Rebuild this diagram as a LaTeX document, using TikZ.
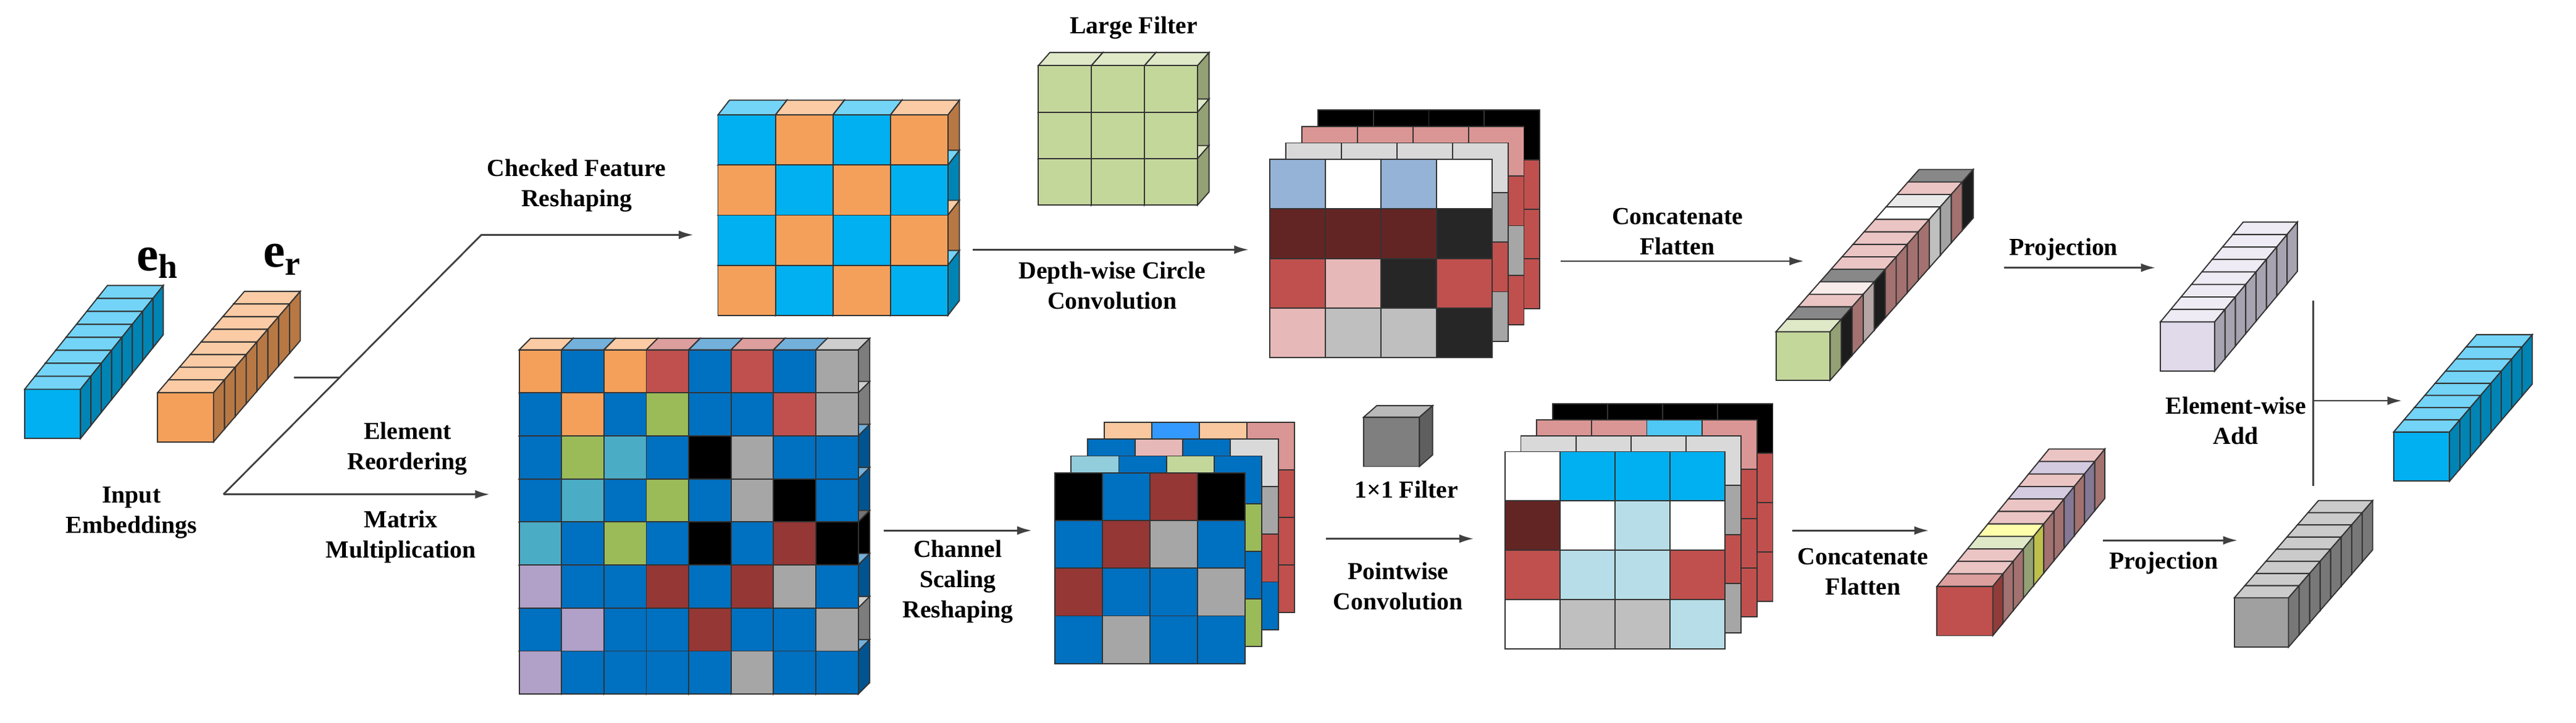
\documentclass[tikz,border=0pt]{standalone}
\usepackage{fontspec}
\setmainfont{Liberation Serif}
\usetikzlibrary{arrows.meta}
\definecolor{cB}{HTML}{00B0F0}
\definecolor{cO}{HTML}{F5A05A}
\definecolor{blu}{HTML}{0070C0}
\definecolor{red}{HTML}{C0504D}
\definecolor{gry}{HTML}{A6A6A6}
\definecolor{grn}{HTML}{9BBB59}
\definecolor{tea}{HTML}{4BACC6}
\definecolor{blk}{HTML}{000000}
\definecolor{dre}{HTML}{953735}
\definecolor{lav}{HTML}{B1A0C7}
\definecolor{fil}{HTML}{C4D79B}
\definecolor{ltb}{HTML}{95B3D7}
\definecolor{wht}{HTML}{FFFFFF}
\definecolor{drk}{HTML}{632523}
\definecolor{b22}{HTML}{262626}
\definecolor{pnk}{HTML}{E6B8B7}
\definecolor{pk2}{HTML}{DA9694}
\definecolor{lgr}{HTML}{D9D9D9}
\definecolor{sgr}{HTML}{BFBFBF}
\definecolor{lor}{HTML}{F9C89E}
\definecolor{mbl}{HTML}{3399FF}
\definecolor{ltl}{HTML}{92CDDC}
\definecolor{lbl}{HTML}{B7DEE8}
\definecolor{cyl}{HTML}{4FC8F5}
\definecolor{lpk}{HTML}{F2DCDB}
\definecolor{yel}{HTML}{FFFF66}
\definecolor{lv2}{HTML}{E0DAEB}
\definecolor{ggr}{HTML}{A0A0A0}
\definecolor{fgr}{HTML}{7F7F7F}
\tikzset{cf/.style={draw=black!80,line width=0.4pt},
 arr/.style={-{Latex[length=5pt,width=3pt]},line width=0.6pt,draw=black!75},
 ln/.style={line width=0.6pt,draw=black!75},
 lbl/.style={align=center,font=\fontsize{8.5}{10.5}\selectfont\bfseries,inner sep=0pt}}
\newcommand\cellbox[7]{%
 \filldraw[cf,fill=#7] ({#1},{#2}) rectangle ++({#3},{#4});
 \filldraw[cf,fill=#7!55!white] ({#1},{#2}) -- ++({#5},{-(#6)}) -- ++({#3},0) -- ++({-(#5)},{#6}) -- cycle;
 \filldraw[cf,fill=#7!75!black] ({#1+#3},{#2}) -- ++({#5},{-(#6)}) -- ++(0,{#4}) -- ++({-(#5)},{#6}) -- cycle;}
\newcommand\vect[8]{%
 \foreach \c [count=\k] in {#8}{\pgfmathsetmacro\ii{#7-\k}%
  \cellbox{#1+\ii*#5}{#2-\ii*#6}{#3}{#4}{#5}{#6}{\c}}}
\newcommand\gridfront[6]{%
 \foreach \c [count=\k from 0] in {#6}{\pgfmathtruncatemacro\cc{mod(\k,#5)}\pgfmathtruncatemacro\rr{\k/#5}%
  \filldraw[cf,fill=\c] ({#1+\cc*#3},{#2+\rr*#4}) rectangle ++({#3},{#4});}}
\newcommand\gridbox[8]{%
 \foreach \c [count=\k from 0] in {#8}{\pgfmathtruncatemacro\cc{mod(\k,#5)}\pgfmathtruncatemacro\rr{\k/#5}%
  \cellbox{#1+\cc*#3}{#2+\rr*#4}{#3}{#4}{#6}{#7}{\c}}%
 \gridfront{#1}{#2}{#3}{#4}{#5}{#8}}
\newcommand\layer[6]{%
 \foreach \c [count=\k from 0] in {#5}{\filldraw[cf,fill=\c] ({#1+\k*#3},{#2}) rectangle ++({#3},{#4});}
 \foreach \c [count=\k from 1] in {#6}{\filldraw[cf,fill=\c] ({#1+3*#3},{#2+\k*#4}) rectangle ++({#3},{#4});}}
\begin{document}
\begin{tikzpicture}[x=0.02cm,y=-0.02cm]
\useasboundingbox (0,0) rectangle (1568,440);
\fill[white] (0,0) rectangle (1568,440);
% input vectors
\vect{15}{237}{34}{30}{6.3}{7.9}{8}{cB,cB,cB,cB,cB,cB,cB,cB}
\vect{96}{239}{34}{30}{6.6}{7.7}{8}{cO,cO,cO,cO,cO,cO,cO,cO}
\node[font=\fontsize{17}{17}\selectfont\bfseries] (eh) at (96,160) {e\textsubscript{h}};
\node[font=\fontsize{17}{17}\selectfont\bfseries] (er) at (172,158) {e\textsubscript{r}};
\node[lbl] (inp) at (80,312) {Input\\Embeddings};
% connectors
\coordinate (s0) at (179,230); \coordinate (s1) at (206.5,230);
\coordinate (d0) at (136,301); \coordinate (d1) at (293,143);
\coordinate (t1) at (422,143); \coordinate (m1) at (298,301);
\draw[ln] (s0) -- (s1);
\draw[arr] (d0) -- (d1) -- (t1);
\draw[arr] (d0) -- (m1);
\node[lbl] (cfr) at (351,113) {Checked Feature\\Reshaping};
\node[lbl] (er2) at (248,273) {Element\\Reordering};
\node[lbl] (mm) at (244,327) {Matrix\\Multiplication};
% checked grid
\gridbox{437}{70}{35}{30.5}{4}{7}{9}{cB,cO,cB,cO,cO,cB,cO,cB,cB,cO,cB,cO,cO,cB,cO,cB}
% large filter
\node[lbl] (lf) at (690,17) {Large Filter};
\gridbox{632}{40}{32.3}{28.3}{3}{7}{8}{fil,fil,fil,fil,fil,fil,fil,fil,fil}
\coordinate (a0) at (592,152); \coordinate (a1) at (760,152);
\draw[arr] (a0) -- (a1);
\node[lbl] (dw) at (677,174) {Depth-wise Circle\\Convolution};
% top right cube
\layer{802.1}{67}{33.8}{30.2}{blk,blk,blk,blk}{red,red,red}
\layer{792.4}{77}{33.8}{30.2}{pk2,pk2,pk2,pk2}{red,gry,red}
\layer{782.7}{87}{33.8}{30.2}{lgr,lgr,lgr,lgr}{gry,red,gry}
\gridfront{773}{97}{33.8}{30.2}{4}{ltb,wht,ltb,wht,drk,drk,drk,b22,red,pnk,b22,red,pnk,sgr,sgr,b22}
\coordinate (c0) at (950,159); \coordinate (c1) at (1098,159);
\draw[arr] (c0) -- (c1);
\node[lbl] (cf1) at (1021,141) {Concatenate\\Flatten};
\vect{1081}{202}{33}{29.5}{6.7}{7.6}{13}{b22,pk2,lgr,wht,pk2,pk2,pk2,pk2,b22,lpk,pk2,b22,fil}
\coordinate (p0) at (1220,163); \coordinate (p1) at (1312,163);
\draw[arr] (p0) -- (p1);
\node[lbl] (pr1) at (1256,152) {Projection};
\vect{1315}{196}{33}{30}{6.3}{7.6}{8}{lv2,lv2,lv2,lv2,lv2,lv2,lv2,lv2}
% element-wise add
\coordinate (v0) at (1408,183); \coordinate (v1) at (1408,296);
\coordinate (h0) at (1408,244); \coordinate (h1) at (1462,244);
\draw[ln] (v0) -- (v1);
\draw[arr] (h0) -- (h1);
\node[lbl] (ewa) at (1361,256) {Element-wise\\Add};
\vect{1457}{263}{34}{30}{6.3}{7.4}{8}{cB,cB,cB,cB,cB,cB,cB,cB}
% matrix
\gridbox{316}{213}{25.8}{26.2}{8}{7}{7}{%
cO,blu,cO,red,blu,red,blu,gry,%
blu,cO,blu,grn,blu,blu,red,gry,%
blu,grn,tea,blu,blk,gry,blu,blu,%
blu,tea,blu,grn,blu,gry,blk,blu,%
tea,blu,grn,blu,blk,blu,dre,blk,%
lav,blu,blu,dre,blu,dre,gry,blu,%
blu,lav,blu,blu,dre,blu,blu,gry,%
lav,blu,blu,blu,blu,gry,blu,blu}
\coordinate (b0) at (538,323); \coordinate (b1) at (628,323);
\draw[arr] (b0) -- (b1);
\node[lbl] (csr) at (583,354) {Channel\\Scaling\\Reshaping};
% bottom mid cube
\layer{672}{257}{29}{29}{lor,mbl,lor,pk2}{red,red,red}
\layer{662}{267.3}{29}{29}{blu,pnk,blu,lgr}{gry,red,blu}
\layer{652}{277.6}{29}{29}{ltl,blu,fil,blu}{grn,blu,grn}
\gridfront{642}{288}{29}{29}{4}{blk,blu,dre,blk,blu,dre,gry,blu,dre,blu,blu,gry,blu,gry,blu,blu}
% 1x1 filter
\cellbox{830}{254}{34}{30}{8}{7}{fgr}
\node[lbl] (f11) at (856,298) {1\texttimes1 Filter};
\coordinate (q0) at (807,328); \coordinate (q1) at (897,328);
\draw[arr] (q0) -- (q1);
\node[lbl] (pwc) at (851,357) {Pointwise\\Convolution};
% bottom right cube
\layer{945.1}{246}{33.5}{30}{blk,blk,blk,blk}{red,red,red}
\layer{935.4}{255.7}{33.5}{30}{pk2,pk2,cyl,pk2}{red,red,red}
\layer{925.7}{265.4}{33.5}{30}{lgr,lgr,lgr,lgr}{gry,red,gry}
\gridfront{916}{275}{33.5}{30}{4}{wht,cB,cB,cB,drk,wht,lbl,wht,red,lbl,lbl,red,wht,sgr,sgr,lbl}
\coordinate (g0) at (1091,323); \coordinate (g1) at (1174,323);
\draw[arr] (g0) -- (g1);
\node[lbl] (cf2) at (1134,348) {Concatenate\\Flatten};
\vect{1179}{357}{34}{30}{6.2}{7.6}{11}{pk2,lav,pk2,lav,pk2,pk2,yel,fil,pk2,pk2,red}
\coordinate (k0) at (1280,329); \coordinate (k1) at (1362,329);
\draw[arr] (k0) -- (k1);
\node[lbl] (pr2) at (1317,343) {Projection};
\vect{1360}{364}{33}{30}{6.4}{7.4}{8}{ggr,ggr,ggr,ggr,ggr,ggr,ggr,ggr}
\end{tikzpicture}
\end{document}
